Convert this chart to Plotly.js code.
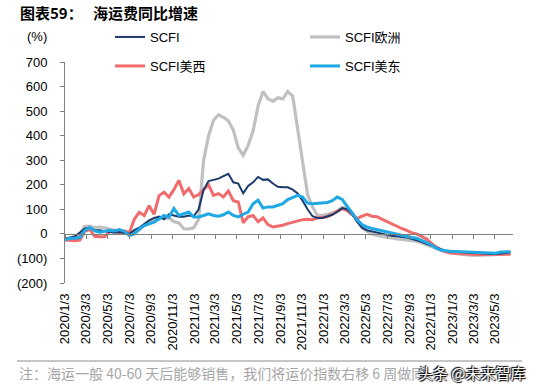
<!DOCTYPE html>
<html>
<head>
<meta charset="utf-8">
<script src="https://cdn.plot.ly/plotly-3.0.1.min.js"></script>
<style>html,body{margin:0;padding:0;background:#fff;}#chart{width:533px;height:388px;}</style>
</head>
<body>
<div id="chart"></div>
<script>
// Biweekly observations starting 2020-01-03
var startDate = '2020-01-03';
var stepDays = 14;

var scfi = [-20,-15,-10,5,22,25,15,15,12,10,5,8,5,0,15,25,40,55,65,70,60,80,75,70,70,75,72,100,180,215,220,225,235,245,210,205,165,195,210,232,220,222,205,192,190,190,180,165,135,100,72,65,65,72,78,90,105,100,80,50,25,15,10,7,3,-3,-8,-10,-12,-15,-20,-25,-32,-40,-48,-55,-62,-70,-72,-74,-75,-75,-77,-78,-80,-80,-82,-82,-80,-77,-75];
var scfiEurope = [-20,-20,-15,0,30,32,25,28,25,20,10,5,5,0,5,15,35,45,60,70,60,65,50,45,21,20,25,60,300,400,463,485,475,460,423,350,320,360,420,520,580,550,540,555,550,580,560,420,287,160,110,75,75,80,85,95,108,105,85,55,25,10,0,-6,-10,-15,-19,-20,-22,-24,-26,-30,-36,-45,-52,-60,-68,-74,-78,-81,-84,-86,-87,-88,-88,-88,-87,-85,-83,-82,-80];
var scfiUSWest = [-25,-28,-28,-25,10,18,-10,-12,-12,10,15,5,12,5,60,88,75,115,80,156,170,150,180,218,163,185,150,160,180,200,157,164,150,175,135,130,45,70,75,50,65,38,28,30,35,42,48,55,58,60,58,65,68,70,80,92,103,95,78,62,72,80,72,70,60,50,40,30,22,14,5,0,-10,-20,-38,-54,-65,-74,-78,-80,-82,-83,-83,-84,-84,-85,-85,-85,-85,-84,-83];
var scfiUSEast = [-24,-18,-18,-15,14,27,12,7,11,15,12,18,10,-7,0,20,34,41,48,61,75,68,103,75,82,89,69,69,75,82,75,72,78,89,75,69,80,89,123,137,105,110,110,117,123,140,150,157,150,125,123,125,125,128,135,150,140,112,85,58,38,28,22,17,13,8,3,-2,-5,-10,-15,-18,-25,-34,-45,-58,-66,-70,-72,-72,-73,-74,-75,-76,-76,-77,-78,-79,-74,-73,-73];

var seriesNames = ['SCFI', 'SCFI欧洲', 'SCFI美西', 'SCFI美东'];
var yTickVals = [-200,-100,0,100,200,300,400,500,600,700];
var yTickText = ['(200)','(100)','0','100','200','300','400','500','600','700'];

function buildDates(n) {
  var out = [];
  var t0 = new Date(startDate + 'T00:00:00Z').getTime();
  for (var i = 0; i < n; i++) {
    var d = new Date(t0 + i * stepDays * 86400000);
    out.push(d.toISOString().slice(0, 10));
  }
  return out;
}
var dates = buildDates(scfi.length);

var tickFont = {family: 'Arial, "Liberation Sans", sans-serif', size: 13, color: '#000'};

var traces = [
  {x: dates, y: scfiEurope, name: seriesNames[1], type: 'scatter', mode: 'lines', xaxis: 'x',
   line: {color: '#c0c0c0', width: 3.2}, legend: 'legend', legendrank: 2},
  {x: dates, y: scfiUSWest, name: seriesNames[2], type: 'scatter', mode: 'lines', xaxis: 'x',
   line: {color: '#f06b6c', width: 3}, legend: 'legend2', legendrank: 1},
  {x: dates, y: scfi, name: seriesNames[0], type: 'scatter', mode: 'lines', xaxis: 'x2',
   line: {color: '#1b3a6e', width: 2}, legend: 'legend', legendrank: 1},
  {x: dates, y: scfiUSEast, name: seriesNames[3], type: 'scatter', mode: 'lines', xaxis: 'x2',
   line: {color: '#1ea8e4', width: 3}, legend: 'legend2', legendrank: 2}
];

var legendCommon = {
  orientation: 'h', entrywidth: 150, entrywidthmode: 'pixels',
  font: {family: 'Arial, "Liberation Sans", "Noto Sans CJK SC", sans-serif', size: 13, color: '#000'},
  bgcolor: 'rgba(0,0,0,0)', borderwidth: 0, xanchor: 'left', yanchor: 'middle',
  traceorder: 'normal', itemclick: false
};

var layout = {
  width: 533, height: 388,
  margin: {l: 65, r: 20, t: 62, b: 105, pad: 0},
  paper_bgcolor: '#fff', plot_bgcolor: '#fff',
  showlegend: true,
  title: {
    text: '<b>图表59：&nbsp;&nbsp;&nbsp;海运费同比增速</b>',
    font: {family: '"Noto Sans CJK SC", sans-serif', size: 15, color: '#000'},
    xref: 'container', x: 20 / 533, xanchor: 'left',
    yref: 'container', y: 1 - 14 / 388, yanchor: 'middle'
  },
  xaxis: {
    type: 'date', range: ['2020-01-03', '2023-06-23'],
    anchor: 'free', position: 2 / 9,
    showline: true, linecolor: '#808080', linewidth: 1,
    ticks: 'outside', ticklen: 4, tickcolor: '#808080', tickwidth: 1,
    tick0: '2020-01-03', dtick: 'M2',
    showticklabels: false, showgrid: false, zeroline: false, fixedrange: true
  },
  xaxis2: {
    type: 'date', overlaying: 'x', matches: 'x', anchor: 'y', side: 'bottom',
    range: ['2020-01-03', '2023-06-23'],
    tick0: '2020-01-03', dtick: 'M2', tickformat: '%Y/%-m/%-d',
    tickangle: -90, tickfont: tickFont,
    showline: false, ticks: '', showgrid: false, zeroline: false,
    ticklabelstandoff: 7
  },
  yaxis: {
    range: [-200, 700], tickvals: yTickVals, ticktext: yTickText,
    showline: true, linecolor: '#808080', linewidth: 1,
    ticks: 'outside', ticklen: 4, tickcolor: '#808080',
    showgrid: false, zeroline: false, tickfont: tickFont,
    ticklabelstandoff: 10, fixedrange: true
  },
  legend: Object.assign({}, legendCommon, {x: (110 - 65) / 448, y: (283 - 37) / 221}),
  legend2: Object.assign({}, legendCommon, {x: (110 - 65) / 448, y: (283 - 66) / 221}),
  shapes: [
    {type: 'line', xref: 'paper', yref: 'paper',
     x0: (17 - 65) / 448, x1: (522 - 65) / 448,
     y0: (283 - 361) / 221, y1: (283 - 361) / 221,
     line: {color: '#8c8c8c', width: 1}}
  ],
  annotations: [
    {text: '(%)', xref: 'paper', yref: 'paper', x: (37 - 65) / 448, y: (283 - 37) / 221,
     xanchor: 'center', yanchor: 'middle', showarrow: false, font: tickFont},
    {text: '注：海运一般 40-60 天后能够销售，我们将运价指数右移 6 周做同', xref: 'paper', yref: 'paper',
     x: (17 - 65) / 448, y: (283 - 373) / 221, xanchor: 'left', yanchor: 'middle', showarrow: false,
     font: {family: '"Noto Sans CJK SC", sans-serif', size: 14, color: '#a6a6a6'}},
    {text: '头条 @未来智库', xref: 'paper', yref: 'paper',
     x: (528 - 65) / 448, y: (283 - 372) / 221, xanchor: 'right', yanchor: 'middle', showarrow: false,
     font: {family: '"Noto Sans CJK SC", sans-serif', size: 15, color: '#ffffff',
            shadow: '0px 0px 2px #000, 1px 1px 1px #000, -1px -1px 1px #000'}}
  ]
};

Plotly.newPlot('chart', traces, layout, {displayModeBar: false, staticPlot: true});
</script>
</body>
</html>
